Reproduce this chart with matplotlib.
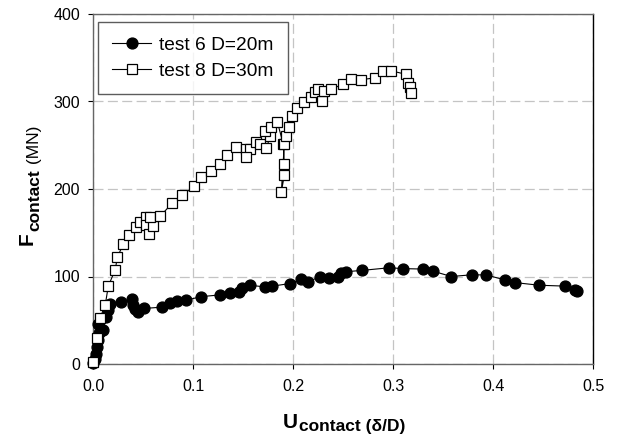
import matplotlib
matplotlib.use("Agg")
import matplotlib.pyplot as plt

plt.rcParams['font.family'] = ['Liberation Sans', 'DejaVu Sans']

# ---- data ----
x6 = [0.000, 0.002, 0.003, 0.004, 0.005, 0.006, 0.005, 0.010, 0.013, 0.015, 0.017,
      0.028, 0.039, 0.040, 0.042, 0.045, 0.051, 0.069, 0.077, 0.084, 0.093,
      0.108, 0.127, 0.137, 0.146, 0.149, 0.157, 0.172, 0.179, 0.197, 0.208,
      0.215, 0.227, 0.236, 0.245, 0.248, 0.253, 0.269, 0.296, 0.310, 0.330,
      0.340, 0.358, 0.379, 0.393, 0.412, 0.422, 0.446, 0.472, 0.482, 0.484]
y6 = [1, 6, 12, 20, 27, 35, 46, 39, 54, 62, 69,
      71, 74, 67, 63, 60, 63.5, 65, 70, 72, 73,
      77, 79, 81, 82.6, 86.4, 90, 88, 89, 92, 96.6,
      94, 100, 98, 99, 104, 105.5, 107, 110, 109, 108.5,
      106, 100, 102, 101.7, 96, 93, 90, 89, 85, 83]

x8 = [0.000, 0.004, 0.007, 0.012, 0.015, 0.022, 0.024, 0.030, 0.036, 0.043,
      0.047, 0.053, 0.053, 0.056, 0.060, 0.057, 0.067, 0.079, 0.089, 0.101,
      0.108, 0.118, 0.127, 0.134, 0.143, 0.153, 0.157, 0.153, 0.163, 0.167,
      0.173, 0.177, 0.172, 0.178, 0.184, 0.190, 0.191, 0.191, 0.188, 0.191,
      0.193, 0.196, 0.199, 0.204, 0.211, 0.218, 0.222, 0.225, 0.229, 0.231,
      0.238, 0.250, 0.258, 0.268, 0.282, 0.290, 0.298, 0.313, 0.315, 0.317,
      0.318]
y8 = [2, 30, 53, 68, 89, 108, 122, 137, 147, 156,
      162, 168, 159, 148, 158, 168, 169, 184, 193, 203,
      214, 220, 229, 239, 248, 246, 246, 236, 254, 251,
      247, 260, 266, 271, 277, 251, 229, 216, 196, 251,
      261, 271, 283, 292, 299, 305, 311, 314, 301, 312,
      314, 320, 326, 325, 327, 335, 335, 331, 321, 316,
      310]

label6 = "test 6 D=20m"
label8 = "test 8 D=30m"
xticks = [0.0, 0.1, 0.2, 0.3, 0.4, 0.5]
xticklabels = ["0.0", "0.1", "0.2", "0.3", "0.4", "0.5"]
yticks = [0, 100, 200, 300, 400]

W, H = 619, 436
fig = plt.figure(figsize=(W / 100, H / 100), dpi=100)
ax = fig.add_axes([93.3 / W, 72 / H, 500 / W, 350 / H])

ax.plot(x6, y6, '-', color='black', lw=0.8, marker='o', ms=7.8,
        mfc='black', mec='black', label=label6, zorder=3, clip_on=False)
ax.plot(x8, y8, '-', color='black', lw=0.8, marker='s', ms=6.8,
        mfc='white', mec='black', mew=0.9, label=label8, zorder=4, clip_on=False)

ax.set_xlim(0, 0.5)
ax.set_ylim(0, 400)
ax.set_xticks(xticks)
ax.set_xticklabels(xticklabels)
ax.set_yticks(yticks)
ax.tick_params(direction='out', length=3.6, width=0.8, labelsize=11.5, colors='black', pad=6)
ax.tick_params(axis='x', pad=7)
ax.grid(True, color='#c4c4c4', lw=0.9, linestyle=(0, (8, 3.5)))
ax.set_axisbelow(True)
for s in ['left', 'bottom', 'top']:
    ax.spines[s].set_color('#666666')
    ax.spines[s].set_linewidth(1.0)
ax.spines['right'].set_color('black')
ax.spines['right'].set_linewidth(1.0)

leg = ax.legend(loc='upper left', bbox_to_anchor=(0.0094, 0.977), borderaxespad=0,
                fontsize=13.8, frameon=True, fancybox=False, handlelength=2.0,
                handletextpad=0.45, borderpad=0.75, labelspacing=0.45)
leg.get_frame().set_edgecolor('#333333')
leg.get_frame().set_linewidth(1.0)

# ---- composite axis labels ----
fig.canvas.draw()
r = fig.canvas.get_renderer()

# x label
tU = fig.text(0, 0, "U", fontsize=15, fontweight='bold', ha='left', va='baseline')
tS = fig.text(0, 0, "contact (δ/D)", fontsize=12.5, fontweight='bold', ha='left', va='baseline')
wU = tU.get_window_extent(r).width
wS = tS.get_window_extent(r).width
cx = 343.3
x0 = cx - (wU + wS) / 2
tU.set_position((x0 / W, 8.5 / H))
tS.set_position(((x0 + wU + 1) / W, 5 / H))

# y label
tF = fig.text(0, 0, "F", fontsize=15, fontweight='bold', rotation=90,
              rotation_mode='anchor', ha='left', va='baseline')
tC = fig.text(0, 0, "contact", fontsize=12.5, fontweight='bold', rotation=90,
              rotation_mode='anchor', ha='left', va='baseline')
tM = fig.text(0, 0, " (MN)", fontsize=12.5, rotation=90,
              rotation_mode='anchor', ha='left', va='baseline')
hF = tF.get_window_extent(r).height
hC = tC.get_window_extent(r).height
hM = tM.get_window_extent(r).height
cy = 436 - 186
y0 = cy - (hF + hC + hM) / 2
tF.set_position((33 / W, y0 / H))
tC.set_position((39 / W, (y0 + hF + 1) / H))
tM.set_position((39 / W, (y0 + hF + hC + 1) / H))

fig.savefig("out.png", dpi=100)
